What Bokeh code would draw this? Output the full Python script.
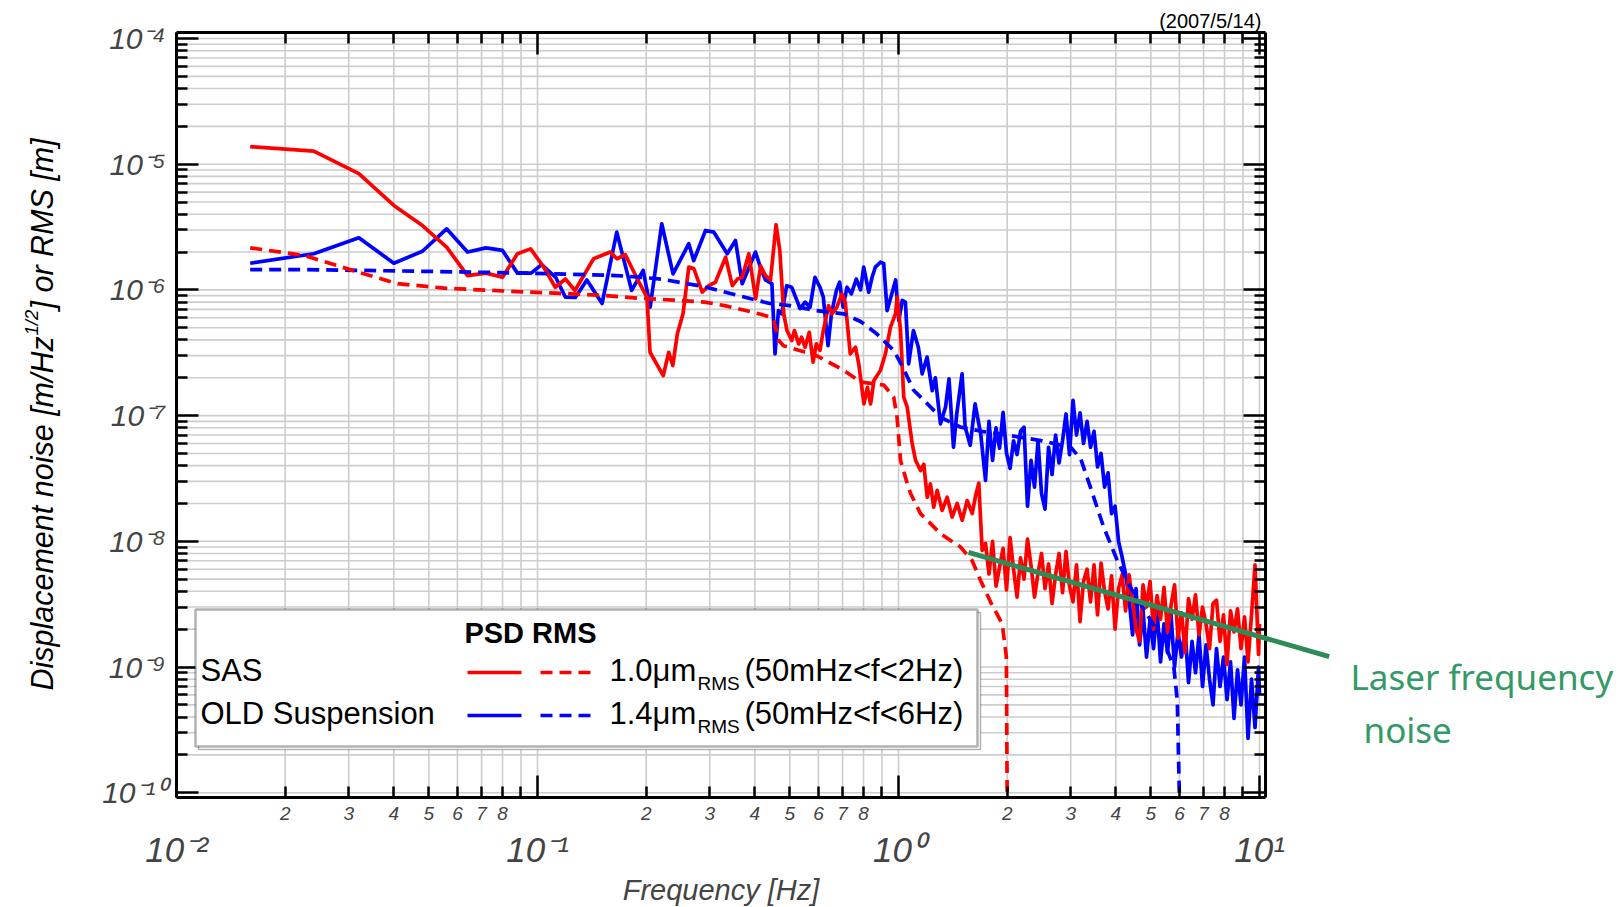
import math
from bokeh.plotting import figure
from bokeh.models import Range1d, LogAxis, FixedTicker, Label, BoxAnnotation, Arrow
from bokeh.embed import file_html
from bokeh.resources import INLINE

# ---------------- data ----------------
# SAS displacement noise PSD (red solid), m/Hz^1/2
sas_psd_f_lo = [0.016, 0.024, 0.032, 0.040, 0.048, 0.056, 0.064, 0.072, 0.080, 0.088,
                0.0957, 0.104, 0.112, 0.1195, 0.127, 0.143, 0.159, 0.166, 0.175, 0.192,
                0.201, 0.205, 0.223, 0.231, 0.237, 0.244, 0.253, 0.2625, 0.271, 0.286,
                0.298, 0.311, 0.332, 0.3465, 0.358, 0.369, 0.385, 0.402, 0.415, 0.428,
                0.442, 0.458, 0.469, 0.481, 0.491, 0.506, 0.515, 0.529, 0.539, 0.551,
                0.566, 0.580, 0.592, 0.606, 0.619, 0.640, 0.654, 0.675, 0.697, 0.712,
                0.735, 0.760, 0.776, 0.802, 0.820, 0.837, 0.855, 0.891, 0.920, 0.950,
                0.981, 0.992, 1.013, 1.034, 1.057, 1.091, 1.115, 1.151, 1.175, 1.201,
                1.226, 1.252, 1.280, 1.321, 1.364, 1.408, 1.454, 1.501, 1.550, 1.600,
                1.635, 1.669, 1.705]
sas_psd_lo = [1.38e-5, 1.27e-5, 8.4e-6, 4.7e-6, 3.25e-6, 2.19e-6, 1.30e-6, 1.36e-6, 1.26e-6, 1.94e-6,
              2.12e-6, 1.52e-6, 1.05e-6, 1.22e-6, 9.9e-7, 1.77e-6, 2.0e-6, 1.77e-6, 1.91e-6, 1.12e-6,
              8.75e-7, 3.19e-7, 2.08e-7, 3.19e-7, 2.5e-7, 4.48e-7, 6.45e-7, 1.52e-6, 1.48e-6, 9.6e-7,
              1.08e-6, 1.15e-6, 1.82e-6, 1.08e-6, 1.22e-6, 1.26e-6, 1.94e-6, 8.5e-7, 1.55e-6, 1.3e-6,
              1.2e-6, 3.3e-6, 2.06e-6, 6.45e-7, 4.75e-7, 3.96e-7, 4.75e-7, 3.72e-7, 4.2e-7, 3.5e-7,
              4.6e-7, 2.66e-7, 3.72e-7, 3.3e-7, 4.75e-7, 7.5e-7, 6.45e-7, 7.3e-7, 9.3e-7, 8.0e-7,
              3.1e-7, 3.5e-7, 2.58e-7, 1.24e-7, 1.68e-7, 1.24e-7, 1.9e-7, 2.29e-7, 3.1e-7, 5.05e-7,
              6.45e-7, 8.75e-7, 4.75e-7, 1.4e-7, 1.17e-7, 6.0e-8, 4.4e-8, 3.66e-8, 4.1e-8, 2.24e-8,
              2.86e-8, 1.87e-8, 2.54e-8, 1.76e-8, 2.24e-8, 1.56e-8, 2.0e-8, 1.47e-8, 2.11e-8, 1.66e-8,
              2.3e-8, 2.9e-8, 8.45e-9]

# high-frequency samples shared by both PSD traces (Hz)
f_hf = [1.742, 1.781, 1.822, 1.863, 1.905, 1.948, 1.992, 2.037, 2.083, 2.130,
        2.178, 2.227, 2.277, 2.329, 2.381, 2.435, 2.490, 2.546, 2.604, 2.663,
        2.723, 2.784, 2.847, 2.911, 2.977, 3.044, 3.113, 3.183, 3.255, 3.329,
        3.404, 3.481, 3.559, 3.640, 3.722, 3.806, 3.892, 3.980, 4.070, 4.162,
        4.256, 4.352, 4.450, 4.550, 4.653, 4.758, 4.865, 4.975, 5.087, 5.202,
        5.319, 5.439, 5.562, 5.688, 5.816, 5.947, 6.081, 6.219, 6.359, 6.503,
        6.649, 6.799, 6.953, 7.110, 7.270, 7.434, 7.602, 7.774, 7.949, 8.129,
        8.312, 8.500, 8.692, 8.888, 9.089, 9.294, 9.504, 9.718, 9.938, 10.0]
sas_psd_hf = [9.6e-9, 5.5e-9, 1.0e-8, 4.4e-9, 6.2e-9, 8.8e-9, 4.1e-9, 1.07e-8, 6.0e-9, 3.6e-9,
              7.4e-9, 5.0e-9, 1.04e-8, 6.4e-9, 3.6e-9, 5.6e-9, 8.0e-9, 4.2e-9, 6.6e-9, 3.2e-9,
              5.4e-9, 8.0e-9, 3.9e-9, 8.3e-9, 4.4e-9, 3.3e-9, 6.5e-9, 2.3e-9, 4.8e-9, 6.0e-9,
              3.3e-9, 6.5e-9, 2.6e-9, 6.7e-9, 4.0e-9, 2.9e-9, 5.3e-9, 2.0e-9, 4.2e-9, 5.4e-9,
              2.8e-9, 5.4e-9, 3.4e-9, 2.0e-9, 1.6e-9, 4.5e-9, 3.0e-9, 4.8e-9, 2.0e-9, 3.7e-9,
              2.4e-9, 4.3e-9, 1.9e-9, 3.1e-9, 4.5e-9, 1.7e-9, 2.7e-9, 1.3e-9, 3.5e-9, 2.4e-9,
              3.75e-9, 1.8e-9, 3.0e-9, 2.2e-9, 1.4e-9, 3.2e-9, 3.4e-9, 1.6e-9, 2.6e-9, 1.05e-9,
              2.8e-9, 1.9e-9, 2.9e-9, 1.4e-9, 2.5e-9, 1.1e-9, 2.6e-9, 6.5e-9, 1.26e-9, 2.2e-9]

# OLD suspension displacement noise PSD (blue solid)
old_psd_f_lo = [0.016, 0.024, 0.032, 0.040, 0.048, 0.056, 0.064, 0.072, 0.080, 0.088,
                0.096, 0.1027, 0.1123, 0.1195, 0.1273, 0.137, 0.151, 0.1658, 0.1823, 0.1962,
                0.2052, 0.2209, 0.2374, 0.2625, 0.2709, 0.292, 0.308, 0.3354, 0.3536, 0.369,
                0.4016, 0.415, 0.428, 0.446, 0.455, 0.465, 0.475, 0.490, 0.506, 0.534,
                0.551, 0.569, 0.587, 0.606, 0.619, 0.638, 0.652, 0.673, 0.687, 0.702,
                0.720, 0.740, 0.764, 0.785, 0.801, 0.827, 0.845, 0.863, 0.891, 0.910,
                0.930, 0.982, 1.002, 1.024, 1.045, 1.067, 1.100, 1.135, 1.163, 1.200,
                1.240, 1.265, 1.307, 1.350, 1.380, 1.420, 1.450, 1.500, 1.530, 1.580,
                1.630, 1.690]
old_psd_lo = [1.63e-6, 1.94e-6, 2.6e-6, 1.63e-6, 2.03e-6, 3.06e-6, 2.0e-6, 2.16e-6, 2.06e-6, 1.36e-6,
              1.36e-6, 1.59e-6, 1.26e-6, 8.75e-7, 8.7e-7, 1.2e-6, 7.8e-7, 2.88e-6, 9.9e-7, 1.43e-6,
              7.3e-7, 3.36e-6, 1.34e-6, 2.33e-6, 1.71e-6, 2.97e-6, 2.88e-6, 1.94e-6, 2.47e-6, 1.12e-6,
              2.0e-6, 1.5e-6, 1.2e-6, 1.12e-6, 3.1e-7, 6.85e-7, 6.45e-7, 1.08e-6, 1.05e-6, 7.1e-7,
              8.0e-7, 7.3e-7, 1.26e-6, 1.05e-6, 8.75e-7, 3.6e-7, 6.45e-7, 9.9e-7, 1.15e-6, 7.3e-7,
              1.05e-6, 9.3e-7, 1.22e-6, 1.0e-6, 1.52e-6, 9.6e-7, 1.26e-6, 1.52e-6, 1.66e-6, 1.62e-6,
              6.85e-7, 1.2e-6, 5.7e-7, 8.25e-7, 8.0e-7, 2.58e-7, 4.75e-7, 3.5e-7, 2.15e-7, 2.92e-7,
              1.58e-7, 2.0e-7, 8.6e-8, 1.17e-7, 1.96e-7, 5.6e-8, 1.03e-7, 2.15e-7, 8.1e-8, 5.8e-8,
              1.24e-7, 7.1e-8]
old_psd_hf = [3.05e-8, 9.0e-8, 4.4e-8, 8.0e-8, 5.5e-8, 1.06e-7, 5.0e-8, 3.8e-8, 6.3e-8, 4.9e-8,
              7.5e-8, 8.1e-8, 1.9e-8, 4.4e-8, 2.7e-8, 6.3e-8, 2.4e-8, 1.8e-8, 5.6e-8, 3.4e-8,
              7.0e-8, 4.2e-8, 6.3e-8, 1.03e-7, 4.9e-8, 1.32e-7, 7.0e-8, 1.05e-7, 6.0e-8, 9.0e-8,
              5.6e-8, 7.5e-8, 3.9e-8, 5.0e-8, 2.7e-8, 3.5e-8, 1.66e-8, 1.9e-8, 1.0e-8, 7.5e-9,
              5.5e-9, 3.5e-9, 1.8e-9, 4.2e-9, 1.5e-9, 2.8e-9, 1.2e-9, 2.4e-9, 1.4e-9, 2.9e-9,
              1.1e-9, 2.2e-9, 1.3e-9, 2.6e-9, 1.0e-9, 1.9e-9, 1.2e-9, 2.0e-9, 7.5e-10, 1.6e-9,
              9.0e-10, 1.8e-9, 7.0e-10, 1.5e-9, 8.0e-10, 5.0e-10, 1.4e-9, 7.0e-10, 1.2e-9, 5.5e-10,
              1.1e-9, 3.9e-10, 9.5e-10, 5.0e-10, 1.2e-9, 2.7e-10, 8.0e-10, 3.3e-10, 1.0e-9, 6.0e-10]

# integrated RMS (dashed), m  (0 at the upper integration limit)
sas_rms_f = [0.016, 0.0226, 0.032, 0.041, 0.056, 0.081, 0.125, 0.155, 0.19, 0.238,
             0.29, 0.33, 0.39, 0.415, 0.44, 0.452, 0.465, 0.48, 0.55, 0.58,
             0.706, 0.785, 0.911, 0.970, 0.991, 1.013, 1.057, 1.08, 1.151, 1.307,
             1.485, 1.6, 1.687, 1.798, 1.938, 1.99, 2.0]
sas_rms = [2.16e-6, 1.88e-6, 1.38e-6, 1.12e-6, 1.03e-6, 9.8e-7, 9.3e-7, 9.0e-7, 8.6e-7, 8.3e-7,
           8.0e-7, 7.5e-7, 6.7e-7, 6.4e-7, 6.1e-7, 5.6e-7, 4.0e-7, 3.6e-7, 3.2e-7, 3.1e-7,
           2.29e-7, 1.85e-7, 1.75e-7, 1.4e-7, 9.7e-8, 4.4e-8, 2.9e-8, 2.4e-8, 1.66e-8, 1.15e-8,
           9.0e-9, 7.0e-9, 4.9e-9, 3.3e-9, 2.2e-9, 1.2e-9, 0.0]
old_rms_f = [0.016, 0.0226, 0.032, 0.053, 0.094, 0.166, 0.193, 0.22, 0.29, 0.39,
             0.44, 0.50, 0.59, 0.706, 0.785, 0.87, 0.97, 1.03, 1.10, 1.2,
             1.307, 1.485, 1.7, 2.0, 2.5, 3.0, 3.2, 3.4, 3.7, 4.04,
             4.39, 4.89, 5.43, 5.79, 5.92, 6.0]
old_rms = [1.45e-6, 1.45e-6, 1.43e-6, 1.40e-6, 1.36e-6, 1.30e-6, 1.26e-6, 1.22e-6, 1.06e-6, 8.5e-7,
           7.8e-7, 7.5e-7, 6.85e-7, 6.45e-7, 5.6e-7, 4.48e-7, 3.3e-7, 2.4e-7, 1.6e-7, 1.25e-7,
           9.7e-8, 8.1e-8, 7.5e-8, 7.0e-8, 6.3e-8, 5.6e-8, 4.5e-8, 2.7e-8, 1.3e-8, 7.0e-9,
           4.3e-9, 2.6e-9, 1.6e-9, 1.0e-9, 5.4e-10, 0.0]

# laser frequency noise guide line (Hz, m/Hz^1/2)
laser_f = [1.563, 15.6]
laser_v = [8.15e-9, 1.21e-9]

# ticks and labels
x_decades = [0.01, 0.1, 1.0, 10.0]
x_minor = [0.02, 0.03, 0.04, 0.05, 0.06, 0.07, 0.08, 0.09,
           0.2, 0.3, 0.4, 0.5, 0.6, 0.7, 0.8, 0.9,
           2.0, 3.0, 4.0, 5.0, 6.0, 7.0, 8.0, 9.0]
x_minor_labels = ["2", "3", "4", "5", "6", "7", "8", ""] * 3
x_decade_labels = ["10\u207b\u00b2", "10\u207b\u00b9", "10\u2070", "10\u00b9"]
y_decades = [1e-10, 1e-9, 1e-8, 1e-7, 1e-6, 1e-5, 1e-4]
y_decade_labels = ["10\u207b\u00b9\u2070", "10\u207b\u2079", "10\u207b\u2078", "10\u207b\u2077",
                   "10\u207b\u2076", "10\u207b\u2075", "10\u207b\u2074"]
y_minor = [m * d for d in [1e-10, 1e-9, 1e-8, 1e-7, 1e-6, 1e-5] for m in range(2, 10)]

# ---------------- layout helpers (pixel -> data) ----------------
W, H = 1624, 907
FL, FR, FT, FB = 176, 1265, 32, 797      # visible plot box (px)
def fx(X):
    return 10 ** ((X - FL) / 361.0 - 2)
def vy(Y):
    return 10 ** (-4 - (Y - 38) / 125.7)

X0, X1 = fx(FL), fx(FR)
Y0, Y1 = vy(FB), vy(FT)
FONT = "Liberation Sans"

# the drawing area spans the whole canvas so that texts outside the box are not clipped;
# the visible box is built from axes fixed at the box edges
p = figure(width=W, height=H, x_axis_type="log", y_axis_type="log",
           x_range=Range1d(fx(0), fx(W)), y_range=Range1d(vy(H), vy(0)),
           x_axis_location=None, y_axis_location=None,
           toolbar_location=None, tools="", output_backend="svg",
           min_border=0, min_border_left=0, min_border_right=0,
           min_border_top=0, min_border_bottom=0)
p.xgrid.visible = False
p.ygrid.visible = False
p.background_fill_color = "white"
p.border_fill_color = "white"
p.outline_line_color = None

# grid lines inside the box
GRID = "#cdcdcd"
gx = x_decades + x_minor
gy = y_decades + y_minor
p.segment(x0=gx, y0=[Y0] * len(gx), x1=gx, y1=[Y1] * len(gx), line_color=GRID, line_width=1.6)
p.segment(x0=[X0] * len(gy), y0=gy, x1=[X1] * len(gy), y1=gy, line_color=GRID, line_width=1.6)

def style_ticks(ax, major_in, minor_in):
    ax.axis_line_color = "black"
    ax.axis_line_width = 3
    ax.major_tick_in = major_in
    ax.major_tick_out = 0
    ax.minor_tick_in = minor_in
    ax.minor_tick_out = 0
    ax.major_tick_line_width = 2.5
    ax.minor_tick_line_width = 2.5
    ax.major_tick_line_color = "black"
    ax.minor_tick_line_color = "black"

# bottom: 2..9 labels close to the box
axA = LogAxis(ticker=FixedTicker(ticks=x_minor, minor_ticks=x_decades),
              major_label_overrides={v: s for v, s in zip(x_minor, x_minor_labels)},
              fixed_location=Y0, bounds=(X0, X1))
style_ticks(axA, 11, 22)
axA.major_label_standoff = 9
axA.major_label_text_font = FONT
axA.major_label_text_font_style = "italic"
axA.major_label_text_font_size = "19px"
p.add_layout(axA, "below")

# bottom: decade labels and axis title
axB = LogAxis(ticker=FixedTicker(ticks=x_decades, minor_ticks=[]),
              major_label_overrides={v: s for v, s in zip(x_decades, x_decade_labels)},
              fixed_location=Y0, bounds=(X0, X1))
axB.axis_line_color = None
axB.major_tick_line_color = None
axB.minor_tick_line_color = None
axB.major_tick_in = 0
axB.major_tick_out = 0
axB.minor_tick_out = 0
axB.major_label_standoff = 32
axB.major_label_text_font = FONT
axB.major_label_text_font_style = "italic"
axB.major_label_text_font_size = "35px"
axB.axis_label = "Frequency [Hz]"
axB.axis_label_standoff = 2
axB.axis_label_text_font = FONT
axB.axis_label_text_font_style = "italic"
axB.axis_label_text_font_size = "29px"
p.add_layout(axB, "below")

# top (ticks only)
axT = LogAxis(ticker=FixedTicker(ticks=x_minor, minor_ticks=x_decades),
              fixed_location=Y1, bounds=(X0, X1))
style_ticks(axT, 11, 22)
axT.major_label_text_color = None
p.add_layout(axT, "above")

# left
axL = LogAxis(ticker=FixedTicker(ticks=y_decades, minor_ticks=y_minor),
              major_label_overrides={v: s for v, s in zip(y_decades, y_decade_labels)},
              fixed_location=X0, bounds=(Y0, Y1))
style_ticks(axL, 22, 11)
axL.major_label_standoff = 11
axL.major_label_text_font = FONT
axL.major_label_text_font_style = "italic"
axL.major_label_text_font_size = "30px"
p.add_layout(axL, "left")

# right (ticks only)
axR = LogAxis(ticker=FixedTicker(ticks=y_decades, minor_ticks=y_minor),
              fixed_location=X1, bounds=(Y0, Y1))
style_ticks(axR, 22, 11)
axR.major_label_text_color = None
p.add_layout(axR, "right")

# ---------------- data lines ----------------
RED, BLUE = "#ff0000", "#0000ff"
LW = 3.7
def clip_box(vals):
    # values below the plotted range (incl. the RMS zero) end at the lower box edge
    return [max(v, Y0) for v in vals]

p.line(old_psd_f_lo + f_hf, old_psd_lo + old_psd_hf, line_color=BLUE, line_width=LW,
       line_join="round")
p.line(sas_psd_f_lo + f_hf, sas_psd_lo + sas_psd_hf, line_color=RED, line_width=LW,
       line_join="round")
p.line(old_rms_f, clip_box(old_rms), line_color=BLUE, line_width=LW, line_dash="12 7")
p.line(sas_rms_f, clip_box(sas_rms), line_color=RED, line_width=LW, line_dash="12 7")

# laser frequency noise guide
p.add_layout(Arrow(end=None, x_start=laser_f[0], y_start=laser_v[0],
                   x_end=laser_f[1], y_end=laser_v[1],
                   line_color="#2e8b57", line_width=5))
GREEN_TXT = "#339966"
p.add_layout(Label(x=fx(1350), y=vy(676), text="Laser frequency", text_align="left",
                   text_baseline="middle", text_font="Noto Sans", text_font_size="35px",
                   text_color=GREEN_TXT))
p.add_layout(Label(x=fx(1363), y=vy(729), text="noise", text_align="left",
                   text_baseline="middle", text_font="Noto Sans", text_font_size="35px",
                   text_color=GREEN_TXT))

# ---------------- legend box ----------------
p.add_layout(BoxAnnotation(left=fx(198), right=fx(980), top=vy(612), bottom=vy(749),
                           fill_color="white", fill_alpha=1.0, line_color="black",
                           line_width=1.5))
p.add_layout(BoxAnnotation(left=fx(195), right=fx(977), top=vy(609), bottom=vy(746),
                           fill_color="white", fill_alpha=1.0, line_color="black",
                           line_width=2.5))

def txt(X, Y, s, size, style="normal", align="left"):
    p.add_layout(Label(x=fx(X), y=vy(Y), text=s, text_align=align, text_baseline="middle",
                       text_font=FONT, text_font_size=size, text_font_style=style,
                       text_color="black"))

txt(530, 632, "PSD RMS", "29px", "bold", "center")
rows = [("SAS", RED, "1.0\u03bcm", "(50mHz<f<2Hz)", 670),
        ("OLD Suspension", BLUE, "1.4\u03bcm", "(50mHz<f<6Hz)", 713)]
for name, col, amp, band, Y in rows:
    txt(200, Y, name, "31px")
    p.add_layout(Arrow(end=None, x_start=fx(467), y_start=vy(Y + 2), x_end=fx(521), y_end=vy(Y + 2),
                       line_color=col, line_width=LW))
    p.add_layout(Arrow(end=None, x_start=fx(540), y_start=vy(Y + 2), x_end=fx(590), y_end=vy(Y + 2),
                       line_color=col, line_width=LW, line_dash="12 7"))
    txt(609, Y, amp, "31px")
    txt(697, Y + 13, "RMS", "19px")
    txt(744, Y, band, "31px")

# date stamp
p.add_layout(Label(x=fx(1261), y=vy(20), text="(2007/5/14)", text_align="right",
                   text_baseline="middle", text_font=FONT, text_font_size="20px",
                   text_color="black"))

# y-axis title with superscript (rotated pieces)
YT = dict(angle=math.pi / 2, text_align="left", text_baseline="middle", text_font=FONT,
          text_font_style="italic", text_color="black")
p.add_layout(Label(x=fx(41), y=vy(690), text="Displacement noise [m/Hz", text_font_size="30.5px", **YT))
p.add_layout(Label(x=fx(31), y=vy(335), text="1/2", text_font_size="18.5px", **YT))
p.add_layout(Label(x=fx(41), y=vy(309), text="] or RMS [m]", text_font_size="30.5px", **YT))

open("out.html", "w").write(file_html(p, INLINE))
